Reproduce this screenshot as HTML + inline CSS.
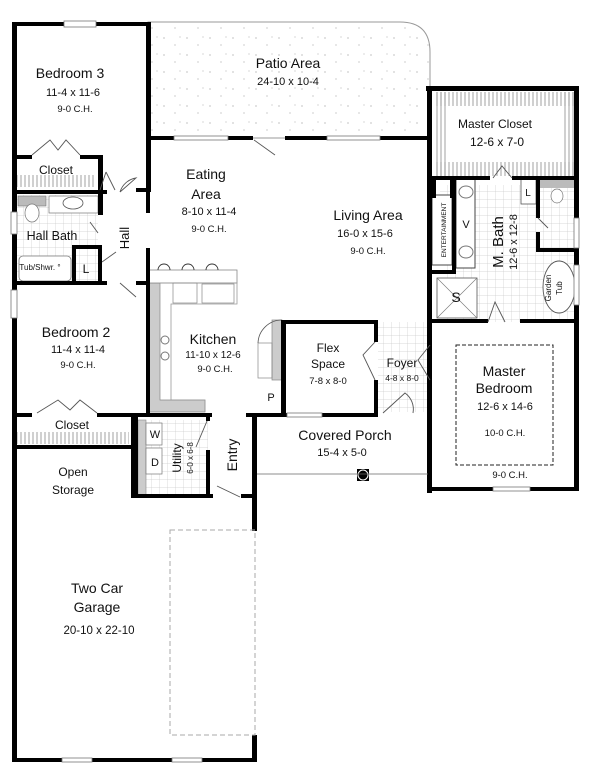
<!DOCTYPE html>
<html><head><meta charset="utf-8"><style>
html,body{margin:0;padding:0;background:#fff}
svg{display:block}
text{font-family:"Liberation Sans",sans-serif;fill:#111;text-anchor:middle}
.n{font-size:14px}.d{font-size:11px}.c{font-size:9.5px}
</style></head><body>
<svg width="600" height="770" viewBox="0 0 600 770" xmlns="http://www.w3.org/2000/svg">
<defs>
<pattern id="tile" width="8" height="8" patternUnits="userSpaceOnUse"><path d="M8 0V8M0 8H8" stroke="#ccc" stroke-width="0.7" fill="none"/></pattern>
<pattern id="dots" width="23" height="17" patternUnits="userSpaceOnUse"><circle cx="3" cy="4" r="0.6" fill="#999"/><circle cx="14" cy="11" r="0.6" fill="#aaa"/><circle cx="19" cy="3" r="0.5" fill="#999"/></pattern>
<pattern id="hang" width="4" height="10" patternUnits="userSpaceOnUse"><path d="M1 0V10" stroke="#888" stroke-width="0.8"/></pattern>
</defs>
<path d="M148 22H400Q430 22 430 52V138H148Z" fill="url(#dots)" stroke="#999" stroke-width="1"/>
<rect x="16" y="195" width="82" height="88" fill="url(#tile)"/>
<rect x="440" y="185" width="136" height="137" fill="url(#tile)"/>
<rect x="138" y="420" width="70" height="75" fill="url(#tile)"/>
<rect x="378" y="322" width="52" height="90" fill="url(#tile)"/>
<rect x="16" y="175" width="80" height="12" fill="url(#hang)"/>
<rect x="16" y="432" width="113" height="12" fill="url(#hang)"/>
<rect x="434" y="92" width="140" height="14" fill="url(#hang)"/>
<rect x="434" y="162" width="140" height="14" fill="url(#hang)"/>
<rect x="434" y="92" width="14" height="84" fill="url(#hang)"/>
<rect x="562" y="92" width="14" height="84" fill="url(#hang)"/>
<path d="M149 283H160V400H205V412H149Z" fill="#ccc" stroke="#888" stroke-width="0.7"/>
<rect x="148" y="270" width="89" height="13" fill="#fff" stroke="#888" stroke-width="0.8"/>
<path d="M160 283H237V304H171V400H205V412" fill="none" stroke="#999" stroke-width="0.8"/>
<rect x="173" y="283" width="24" height="20" fill="none" stroke="#888" stroke-width="0.7"/>
<rect x="202" y="284" width="32" height="19" fill="none" stroke="#888" stroke-width="0.7"/>
<path d="M158 270a6 6 0 0 1 12 0M182 270a6 6 0 0 1 12 0M206 270a6 6 0 0 1 12 0" fill="none" stroke="#333" stroke-width="0.9"/>
<circle cx="165" cy="340" r="4" fill="none" stroke="#777"/><circle cx="165" cy="356" r="4" fill="none" stroke="#777"/>
<rect x="272" y="320" width="10" height="60" fill="#ccc" stroke="#888" stroke-width="0.7"/>
<rect x="258" y="343" width="14" height="35" fill="none" stroke="#888" stroke-width="0.7"/>
<path d="M258 343A24 24 0 0 1 282 320" fill="none" stroke="#555" stroke-width="0.8"/>
<rect x="138" y="420" width="8" height="75" fill="#ccc" stroke="#888" stroke-width="0.6"/>
<rect x="146" y="423" width="16" height="22" fill="#fff" stroke="#777" stroke-width="0.7"/>
<rect x="146" y="448" width="16" height="26" fill="#fff" stroke="#777" stroke-width="0.7"/>
<rect x="18" y="196" width="28" height="10" fill="#bbb" stroke="#777" stroke-width="0.6"/>
<ellipse cx="32" cy="213" rx="7" ry="9" fill="#fff" stroke="#777" stroke-width="0.7"/>
<rect x="49" y="196" width="49" height="17" fill="#fff" stroke="#777" stroke-width="0.7"/>
<ellipse cx="73" cy="203" rx="10" ry="6" fill="none" stroke="#555" stroke-width="0.8"/>
<rect x="19" y="256" width="52" height="25" rx="4" fill="#fff" stroke="#777" stroke-width="0.8"/>
<rect x="456" y="178" width="19" height="90" fill="#fff" stroke="#444" stroke-width="1"/>
<ellipse cx="466" cy="192" rx="7" ry="6" fill="none" stroke="#777"/><ellipse cx="466" cy="252" rx="7" ry="6" fill="none" stroke="#777"/>
<rect x="437" y="278" width="40" height="40" fill="#fff" stroke="#555" stroke-width="0.8"/>
<path d="M437 278L477 318M477 278L437 318" stroke="#777" stroke-width="0.6"/>
<rect x="540" y="180" width="36" height="8" fill="#bbb"/>
<ellipse cx="557" cy="196" rx="6" ry="7" fill="#fff" stroke="#777" stroke-width="0.7"/>
<rect x="521" y="178" width="15" height="26" fill="#fff" stroke="#555" stroke-width="0.8"/>
<ellipse cx="559" cy="287" rx="16" ry="26" fill="#fff" stroke="#555" stroke-width="0.9"/>
<rect x="432" y="195" width="20" height="70" fill="#fff" stroke="#444" stroke-width="1"/>
<g fill="#000">
<rect x="12" y="22" width="5" height="740"/>
<rect x="12" y="22" width="52" height="4"/><rect x="96" y="22" width="52" height="4"/>
<rect x="146" y="22" width="5" height="170"/>
<rect x="146" y="136" width="28" height="4"/><rect x="228" y="136" width="25" height="4"/><rect x="285" y="136" width="42" height="4"/><rect x="380" y="136" width="52" height="4"/>
<rect x="12" y="155" width="20" height="4"/><rect x="80" y="155" width="22" height="4"/>
<rect x="98" y="155" width="5" height="60"/>
<rect x="12" y="190" width="95" height="4"/><rect x="136" y="188" width="14" height="4"/>
<rect x="146" y="188" width="4" height="25"/><rect x="146" y="248" width="4" height="167"/>
<rect x="98" y="245" width="4" height="40"/><rect x="72" y="245" width="30" height="4"/><rect x="72" y="245" width="4" height="40"/>
<rect x="12" y="281" width="95" height="4"/><rect x="136" y="281" width="14" height="4"/>
<rect x="12" y="413" width="20" height="4"/><rect x="97" y="413" width="115" height="4"/><rect x="246" y="413" width="38" height="4"/>
<rect x="12" y="445" width="120" height="4"/>
<rect x="131" y="413" width="7" height="85"/><rect x="131" y="494" width="82" height="4"/>
<rect x="206" y="413" width="4" height="8"/><rect x="206" y="450" width="4" height="48"/>
<rect x="241" y="494" width="16" height="4"/>
<rect x="252" y="413" width="5" height="118"/><rect x="252" y="735" width="5" height="27"/>
<rect x="12" y="758" width="50" height="4"/><rect x="92" y="758" width="80" height="4"/><rect x="202" y="758" width="55" height="4"/>
<rect x="281" y="320" width="5" height="95"/><rect x="257" y="413" width="30" height="4"/>
<rect x="282" y="320" width="96" height="4"/><rect x="374" y="320" width="4" height="22"/><rect x="374" y="380" width="4" height="35"/>
<rect x="322" y="413" width="56" height="4"/>
<rect x="426" y="86" width="152" height="5"/><rect x="574" y="86" width="5" height="405"/>
<rect x="427" y="86" width="5" height="407"/>
<rect x="428" y="176" width="62" height="4"/><rect x="512" y="176" width="66" height="4"/>
<rect x="432" y="178" width="4" height="20"/><rect x="450" y="178" width="4" height="20"/>
<rect x="452" y="178" width="4" height="95"/><rect x="432" y="270" width="24" height="4"/>
<rect x="536" y="178" width="4" height="40"/><rect x="536" y="232" width="4" height="20"/><rect x="536" y="248" width="40" height="4"/>
<rect x="428" y="319" width="60" height="4"/><rect x="520" y="319" width="58" height="4"/>
<rect x="428" y="487" width="65" height="4"/><rect x="530" y="487" width="49" height="4"/>
<rect x="357" y="469" width="12" height="12"/>
</g>
<circle cx="363" cy="475" r="5" fill="#000" stroke="#fff"/>
<line x1="257" y1="474" x2="428" y2="474" stroke="#666" stroke-width="0.8"/>
<rect x="170" y="530" width="85" height="205" fill="none" stroke="#aaa" stroke-dasharray="5 3"/>
<rect x="456" y="345" width="97" height="120" fill="none" stroke="#222" stroke-dasharray="4 2"/>
<g fill="none" stroke="#555" stroke-width="0.9">
<path d="M115 190L106 172M106 172L100 190"/>
<path d="M32 155L50 140L58 150L66 140L80 155"/>
<path d="M37 413L58 400L70 410L80 400L97 413"/>
<path d="M120 192L136 178A20 20 0 0 0 120 192"/><path d="M120 283L136 297"/>
<path d="M102 262L116 252"/><path d="M98 233L90 222"/>
<path d="M254 140L275 155"/>
<path d="M375 342L363 355L375 380M430 345L418 360L430 380"/>
<path d="M383 413L405 393A20 20 0 0 1 413 413"/>
<path d="M207 421L196 447"/><path d="M217 486L240 497"/>
<path d="M493 178L502 166L512 178"/><path d="M505 322L495 302L488 322"/>
<path d="M538 218L548 228"/>
</g>
<g fill="#fff" stroke="#777" stroke-width="0.8">
<rect x="64" y="21" width="32" height="6"/><rect x="174" y="136" width="54" height="4"/><rect x="327" y="136" width="53" height="4"/>
<rect x="11" y="212" width="6" height="22"/><rect x="11" y="290" width="6" height="28"/>
<rect x="62" y="758" width="30" height="4"/><rect x="172" y="758" width="30" height="4"/>
<rect x="493" y="487" width="37" height="4"/><rect x="574" y="218" width="5" height="30"/><rect x="574" y="265" width="5" height="40"/>
<rect x="287" y="413" width="35" height="4"/>
</g>
<text class="n" x="70" y="78">Bedroom 3</text><text class="d" x="73" y="96">11-4 x 11-6</text><text class="c" x="75" y="112">9-0 C.H.</text>
<text class="n" x="288" y="68">Patio Area</text><text class="d" x="288" y="85">24-10 x 10-4</text>
<text class="d" x="56" y="174" style="font-size:12px">Closet</text>
<text class="d" x="52" y="240" style="font-size:12.5px">Hall Bath</text>
<text x="40" y="270" style="font-size:8px">Tub/Shwr. °</text>
<text class="n" x="86" y="273" style="font-size:12px">L</text>
<text class="n" transform="translate(129,238) rotate(-90)" style="font-size:13px">Hall</text>
<text class="n" x="206" y="179">Eating</text><text class="n" x="206" y="199">Area</text><text class="d" x="209" y="215">8-10 x 11-4</text><text class="c" x="209" y="232">9-0 C.H.</text>
<text class="n" x="368" y="220">Living Area</text><text class="d" x="365" y="237">16-0 x 15-6</text><text class="c" x="368" y="254">9-0 C.H.</text>
<text class="d" x="495" y="128" style="font-size:12px">Master Closet</text><text class="d" x="497" y="146" style="font-size:12px">12-6 x 7-0</text>
<text transform="translate(446,230) rotate(-90)" style="font-size:6.5px">ENTERTAINMENT</text>
<text class="d" x="466" y="228">V</text>
<text class="n" transform="translate(503,242) rotate(-90)" style="font-size:15px">M. Bath</text>
<text class="d" transform="translate(517,242) rotate(-90)">12-6 x 12-8</text>
<text class="d" x="528" y="196" style="font-size:10px">L</text>
<text transform="translate(551,288) rotate(-90)" style="font-size:8px">Garden</text><text transform="translate(562,288) rotate(-90)" style="font-size:8px">Tub</text>
<text class="n" x="456" y="302">S</text>
<text class="n" x="76" y="337">Bedroom 2</text><text class="d" x="78" y="353">11-4 x 11-4</text><text class="c" x="78" y="368">9-0 C.H.</text>
<text class="n" x="213" y="344">Kitchen</text><text class="d" x="213" y="358" style="font-size:10px">11-10 x 12-6</text><text class="c" x="215" y="372">9-0 C.H.</text>
<text class="d" x="271" y="401">P</text>
<text class="d" x="328" y="352" style="font-size:12px">Flex</text><text class="d" x="328" y="368" style="font-size:12px">Space</text><text class="c" x="328" y="384">7-8 x 8-0</text>
<text class="d" x="402" y="367" style="font-size:12px">Foyer</text><text x="402" y="381" style="font-size:8.5px">4-8 x 8-0</text>
<text class="n" x="504" y="376">Master</text><text class="n" x="504" y="393">Bedroom</text><text class="d" x="505" y="410">12-6 x 14-6</text><text class="c" x="505" y="436">10-0 C.H.</text><text class="c" x="510" y="478">9-0 C.H.</text>
<text class="d" x="72" y="429" style="font-size:12px">Closet</text>
<text class="d" x="73" y="476" style="font-size:12px">Open</text><text class="d" x="73" y="494" style="font-size:12px">Storage</text>
<text class="d" x="155" y="438">W</text><text class="d" x="155" y="466">D</text>
<text class="d" transform="translate(181,458) rotate(-90)" style="font-size:12px">Utility</text>
<text transform="translate(193,458) rotate(-90)" style="font-size:8px">6-0 x 6-8</text>
<text class="n" transform="translate(237,455) rotate(-90)">Entry</text>
<text class="n" x="345" y="440">Covered Porch</text><text class="d" x="342" y="456">15-4 x 5-0</text>
<text class="n" x="97" y="593">Two Car</text><text class="n" x="97" y="612">Garage</text><text class="d" x="99" y="634" style="font-size:11.5px">20-10 x 22-10</text>
</svg>
</body></html>
